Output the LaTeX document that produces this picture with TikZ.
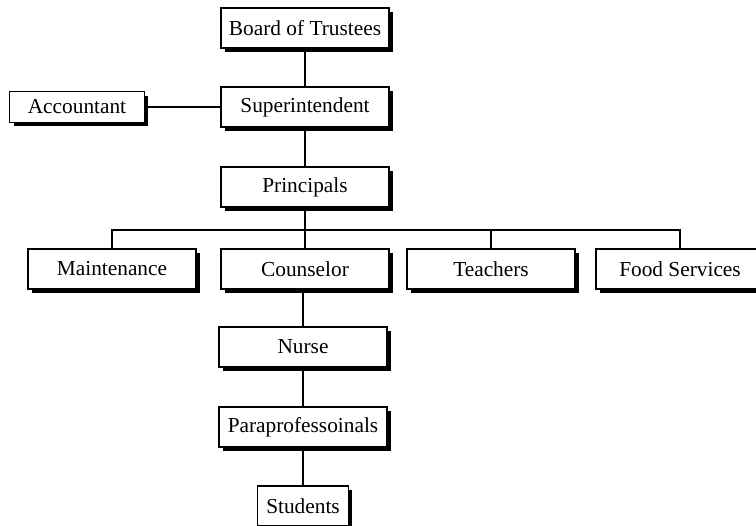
\documentclass[tikz,border=0pt]{standalone}
\usepackage{fontspec}
\setmainfont{Liberation Serif}
\usetikzlibrary{shadows,positioning,calc}

\begin{document}
\begin{tikzpicture}[
  x=0.75pt, y=-0.75pt,
  font=\fontsize{16}{18}\selectfont,
  orgbox/.style={rectangle, minimum height=30pt, minimum width=126pt, inner sep=0pt, draw=black, line width=1.1pt, fill=white,
    drop shadow={shadow xshift=3pt, shadow yshift=-3pt, fill=black, opacity=1}},
  orgboxs/.style={orgbox, minimum width=101pt, minimum height=23pt},
  orgboxn/.style={orgbox, minimum width=68pt},
  link/.style={draw=black, line width=1.1pt}
]
\useasboundingbox (0,0) rectangle (756,525);

\node[orgbox] (board) at (305,28) {Board of Trustees};
\node[orgbox] (super) at (305,107) {Superintendent};
\node[orgboxs] (acct) at (77,107) {Accountant};
\node[orgbox] (princ) at (305,187) {Principals};

\node[orgbox] (maint) at (112,269) {Maintenance};
\node[orgbox] (couns) at (305,269) {Counselor};
\node[orgbox] (teach) at (491,269) {Teachers};
\node[orgbox] (food) at (680,269) {Food Services};

\node[orgbox] (nurse) at (303,347) {Nurse};
\node[orgbox] (para) at (303,427) {Paraprofessoinals};
\node[orgboxn] (stud) at (303,506) {Students};

\coordinate (bus) at (305,230);

\draw[link] (board) -- (super);
\draw[link] (acct) -- (super);
\draw[link] (super) -- (princ);
\draw[link] (princ) -- (bus);
\draw[link] (maint.north) |- (bus) -| (food.north);
\draw[link] (teach.north) -- (teach.north |- bus);
\draw[link] (bus) -- (couns);
\draw[link] (couns.south -| nurse) -- (nurse);
\draw[link] (nurse) -- (para);
\draw[link] (para) -- (stud);
\end{tikzpicture}
\end{document}
